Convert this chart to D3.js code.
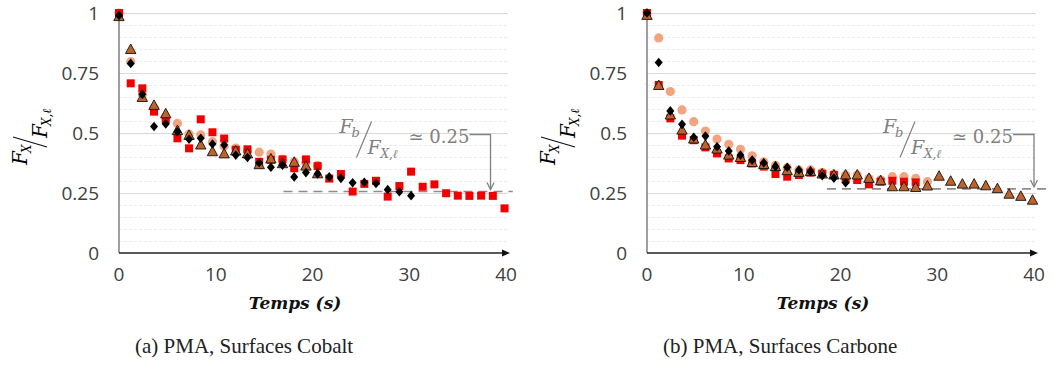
<!DOCTYPE html>
<meta charset="utf-8">
<style>
  body { margin: 0; background: #fff; }
  .tick-label { font-family: 'Open Sans', sans-serif; font-size: 19px; fill: #404040; }
  .grid-major { stroke: #d9d9d9; stroke-width: 1; shape-rendering: crispEdges; }
  .grid-minor { stroke: #ececec; stroke-width: 1; stroke-dasharray: 3,2; shape-rendering: crispEdges; }
  .math { font-family: 'DejaVu Serif', serif; font-style: italic; }
  .caption { font-family: 'Liberation Serif', serif; font-size: 21px; fill: #222; }
  .xtitle { font-family: 'DejaVu Serif', serif; font-size: 17px; font-weight: bold; font-style: italic; fill: #111; }
</style>
<body>
<svg></svg>
<script src="https://d3js.org/d3.v7.min.js"></script>
<script>

// time of each measurement (s)
var times = [0, 1.21, 2.41, 3.62, 4.83, 6.04, 7.24, 8.45, 9.66, 10.87, 12.07, 13.28,
             14.49, 15.7, 16.9, 18.11, 19.32, 20.53, 21.73, 22.94, 24.15, 25.36, 26.56,
             27.77, 28.98, 30.19, 31.39, 32.6, 33.81, 35.02, 36.22, 37.43, 38.64, 39.85];

var xTicks = [0, 10, 20, 30, 40];
var yTicks = [0, 0.25, 0.5, 0.75, 1];
var yTickLabels = ['0', '0.25', '0.5', '0.75', '1'];

// (a) cobalt
var cobaltSquares = [1.0, 0.707, 0.686, 0.589, 0.555, 0.478, 0.436, 0.557, 0.503, 0.477, 0.43, 0.432,
                     0.38, 0.388, 0.39, 0.353, 0.39, 0.362, 0.31, 0.329, 0.256, 0.288, 0.301, 0.235,
                     0.279, 0.339, 0.276, 0.286, 0.249, 0.239, 0.238, 0.239, 0.238, 0.186];
var cobaltCircles = [1.0, 0.797, 0.66, 0.605, 0.565, 0.54, 0.495, 0.492, 0.464, 0.445, 0.437, 0.425,
                     0.42, 0.412, 0.39, 0.38, 0.375, 0.365];
var cobaltTriangles = [0.985, 0.848, 0.648, 0.615, 0.58, 0.51, 0.49, 0.45, 0.422, 0.413, 0.425, 0.413,
                       0.368, 0.392, 0.372, 0.378, 0.362, 0.33];
var cobaltDiamonds = [0.99, 0.79, 0.661, 0.527, 0.538, 0.505, 0.474, 0.478, 0.454, 0.45, 0.408, 0.398,
                      0.376, 0.357, 0.366, 0.317, 0.335, 0.329, 0.317, 0.311, 0.293, 0.295, 0.29,
                      0.264, 0.255, 0.239];
var cobaltPlateau = 0.256;

// (b) carbone
var carboneSquares = [1.0, 0.70, 0.561, 0.489, 0.47, 0.44, 0.415, 0.394, 0.387, 0.373, 0.36, 0.329,
                      0.318, 0.325, 0.335, 0.33, 0.325, 0.307, 0.304, 0.286, 0.297, 0.301, 0.297, 0.294];
var carboneCircles = [1.0, 0.896, 0.673, 0.596, 0.547, 0.508, 0.475, 0.453, 0.432, 0.405, 0.38, 0.365,
                      0.355, 0.346, 0.346, 0.336, 0.329, 0.325, 0.325, 0.31, 0.305, 0.318, 0.318,
                      0.311, 0.297];
var carboneTriangles = [0.99, 0.698, 0.575, 0.512, 0.475, 0.45, 0.433, 0.408, 0.398, 0.377, 0.369, 0.36,
                        0.343, 0.336, 0.339, 0.329, 0.325, 0.325, 0.325, 0.311, 0.301, 0.276, 0.276,
                        0.273, 0.279, 0.32, 0.299, 0.287, 0.287, 0.28, 0.268, 0.245, 0.236, 0.22];
var carboneDiamonds = [1.0, 0.794, 0.592, 0.536, 0.482, 0.487, 0.443, 0.425, 0.408, 0.387, 0.376, 0.36,
                       0.357, 0.346, 0.339, 0.322, 0.312, 0.293];
var carbonePlateau = 0.267;

var W = 1052, H = 369;
var svg = d3.select('svg').attr('width', W).attr('height', H);

var panels = [
  {x0: 119, caption: '(a) PMA, Surfaces Cobalt', squares: cobaltSquares, circles: cobaltCircles,
   triangles: cobaltTriangles, diamonds: cobaltDiamonds, plateau: cobaltPlateau,
   dashFrom: 17, dashTo: 40.7, arrowAt: 38.4},
  {x0: 647, caption: '(b) PMA, Surfaces Carbone', squares: carboneSquares, circles: carboneCircles,
   triangles: carboneTriangles, diamonds: carboneDiamonds, plateau: carbonePlateau,
   dashFrom: 18.6, dashTo: 42, arrowAt: 40}
];

var yScale = d3.scaleLinear().domain([0, 1]).range([253, 13]);

function pts(vals) {
  return vals.map(function(v, i) { return {t: times[i], v: v}; });
}

panels.forEach(function(p) {
  var x = d3.scaleLinear().domain([0, 40]).range([p.x0, p.x0 + 387]);
  var g = svg.append('g');
  var right = x(40) + 2;

  // minor grid every 0.05
  var minor = d3.range(1, 20).map(function(k) { return k * 0.05; })
    .filter(function(v) { return Math.abs(v * 4 - Math.round(v * 4)) > 1e-6; });
  g.selectAll('.grid-minor').data(minor).enter().append('line')
    .attr('class', 'grid-minor')
    .attr('x1', x(0)).attr('x2', right)
    .attr('y1', function(d) { return Math.round(yScale(d)) + 0.5; })
    .attr('y2', function(d) { return Math.round(yScale(d)) + 0.5; });

  g.selectAll('.grid-major').data(yTicks.slice(1)).enter().append('line')
    .attr('class', 'grid-major')
    .attr('x1', x(0)).attr('x2', right)
    .attr('y1', function(d) { return Math.round(yScale(d)) + 0.5; })
    .attr('y2', function(d) { return Math.round(yScale(d)) + 0.5; });

  // y axis line
  g.append('line')
    .attr('x1', x(0)).attr('x2', x(0))
    .attr('y1', yScale(1)).attr('y2', yScale(0))
    .attr('stroke', '#6b6b6b').attr('stroke-width', 1.3);

  // x axis with arrow
  g.append('line')
    .attr('x1', x(0)).attr('x2', x(40) - 2)
    .attr('y1', yScale(0)).attr('y2', yScale(0))
    .attr('stroke', '#222').attr('stroke-width', 1.4);
  g.append('path')
    .attr('d', 'M' + (x(40) + 4) + ',' + yScale(0) + 'l-8,-3.5v7z')
    .attr('fill', '#111');

  // tick labels
  g.selectAll('.ylab').data(yTicks).enter().append('text')
    .attr('class', 'tick-label')
    .attr('x', x(0) - 20)
    .attr('y', function(d) { return yScale(d); })
    .attr('dy', '0.36em')
    .attr('text-anchor', 'end')
    .text(function(d, i) { return yTickLabels[i]; });

  g.selectAll('.xlab').data(xTicks).enter().append('text')
    .attr('class', 'tick-label')
    .attr('x', function(d) { return x(d); })
    .attr('y', yScale(0) + 28)
    .attr('text-anchor', 'middle')
    .text(function(d) { return d; });

  // x title
  g.append('text')
    .attr('class', 'xtitle')
    .attr('x', x(0) + 176).attr('y', 309)
    .attr('text-anchor', 'middle')
    .text('Temps (s)');

  // y title: F_X / F_X,l  (rotated)
  var yt = g.append('g')
    .attr('transform', 'translate(' + (x(0) - 87) + ',136)rotate(-90)');
  yt.append('text').attr('class', 'math').attr('x', -29).attr('y', -5)
    .attr('font-size', 20).text('F');
  yt.append('text').attr('class', 'math').attr('x', -17).attr('y', -1)
    .attr('font-size', 12).text('X');
  yt.append('line').attr('x1', -11).attr('y1', 15).attr('x2', -1).attr('y2', -19)
    .attr('stroke', '#111').attr('stroke-width', 1.2);
  yt.append('text').attr('class', 'math').attr('x', -2).attr('y', 15)
    .attr('font-size', 20).text('F');
  yt.append('text').attr('class', 'math').attr('x', 10).attr('y', 19)
    .attr('font-size', 12).text('X,ℓ');

  // plateau dashed line
  var py = yScale(p.plateau);
  g.append('line')
    .attr('x1', x(p.dashFrom)).attr('x2', Math.min(x(p.dashTo), W))
    .attr('y1', py).attr('y2', py)
    .attr('stroke', '#8c8c8c').attr('stroke-width', 1.6)
    .attr('stroke-dasharray', '9,6');

  // markers: circles, squares, triangles, diamonds
  g.selectAll('.c').data(pts(p.circles)).enter().append('circle')
    .attr('cx', function(d) { return x(d.t); })
    .attr('cy', function(d) { return yScale(d.v); })
    .attr('r', 4.6)
    .attr('fill', '#f2a481');

  g.selectAll('.s').data(pts(p.squares)).enter().append('rect')
    .attr('x', function(d) { return x(d.t) - 4; })
    .attr('y', function(d) { return yScale(d.v) - 4; })
    .attr('width', 8).attr('height', 8)
    .attr('fill', '#f20000');

  g.selectAll('.tr').data(pts(p.triangles)).enter().append('path')
    .attr('transform', function(d) { return 'translate(' + x(d.t) + ',' + yScale(d.v) + ')'; })
    .attr('d', 'M0,-5.5L5.2,4L-5.2,4Z')
    .attr('fill', '#c0632a')
    .attr('stroke', '#111').attr('stroke-width', 0.9);

  g.selectAll('.dm').data(pts(p.diamonds)).enter().append('path')
    .attr('transform', function(d) { return 'translate(' + x(d.t) + ',' + yScale(d.v) + ')'; })
    .attr('d', 'M0,-4.8L4,0L0,4.8L-4,0Z')
    .attr('fill', '#000');

  // annotation Fb / F_X,l ~ 0.25
  var ax = x(p.arrowAt), ay = 134.5;
  var ann = g.append('g').attr('fill', '#808080');
  ann.append('text').attr('class', 'math').attr('x', ax - 151).attr('y', ay - 2)
    .attr('font-size', 19).text('F');
  ann.append('text').attr('class', 'math').attr('x', ax - 139).attr('y', ay + 2)
    .attr('font-size', 13).text('b');
  ann.append('line').attr('x1', ax - 134).attr('y1', ay + 23).attr('x2', ax - 119).attr('y2', ay - 13)
    .attr('stroke', '#808080').attr('stroke-width', 1.2);
  ann.append('text').attr('class', 'math').attr('x', ax - 123).attr('y', ay + 19)
    .attr('font-size', 19).text('F');
  ann.append('text').attr('class', 'math').attr('x', ax - 110).attr('y', ay + 23)
    .attr('font-size', 12).text('X,ℓ');
  ann.append('text').attr('x', ax - 82).attr('y', ay + 8)
    .attr('font-family', 'DejaVu Serif, serif').attr('font-size', 18)
    .text('≃ 0.25');
  ann.append('path')
    .attr('d', 'M' + (ax - 21) + ',' + ay + 'H' + ax + 'V' + (py - 2))
    .attr('fill', 'none').attr('stroke', '#808080').attr('stroke-width', 1.3);
  ann.append('path')
    .attr('d', 'M' + (ax - 3.5) + ',' + (py - 9) + 'L' + ax + ',' + (py - 2) + 'L' + (ax + 3.5) + ',' + (py - 9))
    .attr('fill', 'none').attr('stroke', '#808080').attr('stroke-width', 1.3);

  // caption
  g.append('text')
    .attr('class', 'caption')
    .attr('x', x(0) + 16).attr('y', 353)
    .text(p.caption);
});

</script>
